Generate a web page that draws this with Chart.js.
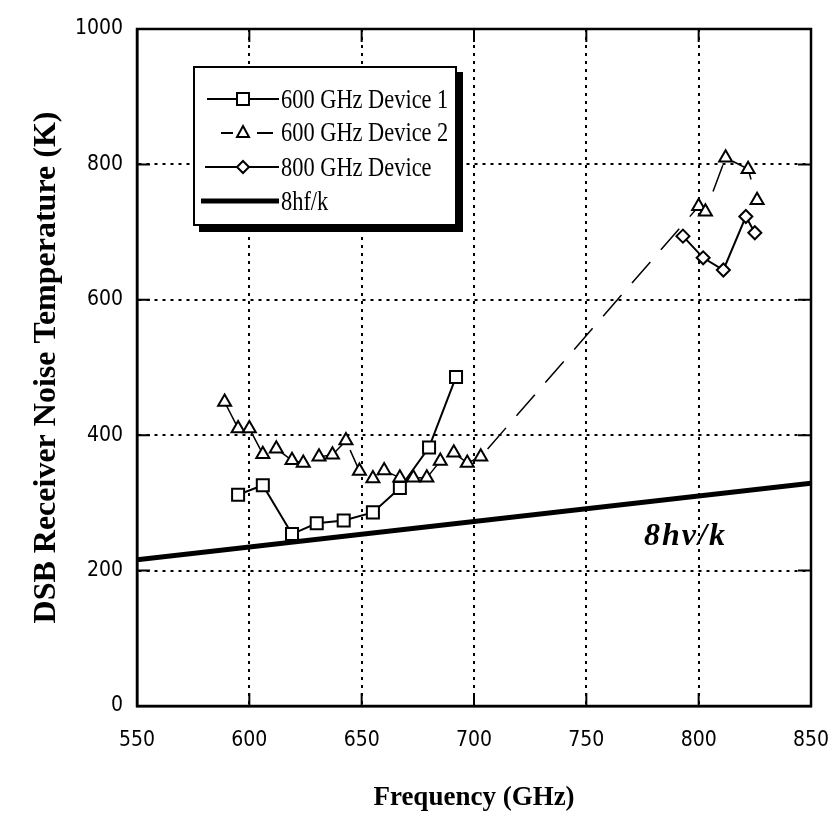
<!DOCTYPE html>
<html>
<head>
<meta charset="utf-8">
<script src="https://cdn.jsdelivr.net/npm/chart.js@4.4.0/dist/chart.umd.min.js"></script>
<style>
  html, body { margin: 0; padding: 0; background: #fff; }
  #wrap { position: relative; width: 833px; height: 818px; overflow: hidden; }
  #legend_box {
    position: absolute; left: 193px; top: 66px; width: 260px; height: 156px;
    border: 2px solid #000; box-shadow: 6px 6px 0 #000; background: #fff;
    font-family: "Liberation Serif", "Times New Roman", serif; font-size: 28px; color: #000;
  }
  .row { position: absolute; left: 0; height: 34px; display: flex; align-items: center; white-space: nowrap; }
  .row svg { flex: none; }
  .row span { display: inline-block; transform: scaleX(0.8); transform-origin: left center; }
  #label_8hv {
    position: absolute; left: 644px; top: 516px;
    font-family: "Liberation Serif", "Times New Roman", serif; font-size: 32px;
    font-weight: bold; font-style: italic; color: #000; letter-spacing: 2px;
  }
</style>
</head>
<body>
<div id="wrap">
  <canvas id="canvas_chart" width="833" height="818"></canvas>
  <div id="legend_box">
    <div class="row" style="top:14px">
      <svg width="86" height="20"><line x1="12" y1="10" x2="84" y2="10" stroke="#000" stroke-width="2"/><rect x="42" y="4" width="12" height="12" fill="#fff" stroke="#000" stroke-width="2"/></svg>
      <span>600 GHz Device 1</span>
    </div>
    <div class="row" style="top:47px">
      <svg width="86" height="20"><line x1="26" y1="11" x2="38" y2="11" stroke="#000" stroke-width="2"/><line x1="62" y1="11" x2="78" y2="11" stroke="#000" stroke-width="2"/><polygon points="48,4 54,15 42,15" fill="#fff" stroke="#000" stroke-width="2"/></svg>
      <span>600 GHz Device 2</span>
    </div>
    <div class="row" style="top:82px">
      <svg width="86" height="20"><line x1="10" y1="10" x2="84" y2="10" stroke="#000" stroke-width="2"/><polygon points="48,4 54,10 48,16 42,10" fill="#fff" stroke="#000" stroke-width="2"/></svg>
      <span>800 GHz Device</span>
    </div>
    <div class="row" style="top:116px">
      <svg width="86" height="20"><line x1="6" y1="10" x2="84" y2="10" stroke="#000" stroke-width="5"/></svg>
      <span>8hf/k</span>
    </div>
  </div>
  <div id="label_8hv">8hν/k</div>
</div>
<script>
// Valores (frequência em GHz, temperatura em K)
var dev1_freq = [595, 606, 619, 630, 642, 655, 667, 680, 692];
var dev1_temp = [312, 326, 254, 270, 274, 286, 322, 382, 486];

var dev2_freq = [589, 595, 600, 606, 612, 619, 624, 631, 637, 643, 649, 655, 660, 667, 673, 679, 685, 691, 697, 703, 800, 803, 812, 822, 826];
var dev2_temp = [449, 410, 410, 372, 380, 363, 359, 368, 371, 392, 347, 336, 348, 337, 337, 337, 362, 374, 359, 368, 738, 730, 810, 793, 747];

var dev3_freq = [793, 802, 811, 821, 825];
var dev3_temp = [694, 662, 644, 723, 699];

var limit_freq = [550, 850];
var limit_temp = [216, 329];

var x_ticks = [550, 600, 650, 700, 750, 800, 850];
var y_ticks = [0, 200, 400, 600, 800, 1000];

function toPoints(xs, ys) {
  var pts = [];
  for (let i = 0; i < xs.length; i++) {
    pts.push({x: xs[i], y: ys[i]});
  }
  return pts;
}

// Moldura sólida e pequenos traços para dentro nos quatro lados
const frameTicks = {
  id: 'frameTicks',
  beforeDatasetsDraw(chart) {
    const ctx = chart.ctx;
    const a = chart.chartArea;
    const sx = chart.scales.x, sy = chart.scales.y;
    ctx.save();
    ctx.strokeStyle = '#000';
    ctx.lineWidth = 2.5;
    ctx.strokeRect(a.left, a.top, a.right - a.left, a.bottom - a.top);
    ctx.lineWidth = 2;
    ctx.beginPath();
    x_ticks.forEach(v => {
      const px = sx.getPixelForValue(v);
      ctx.moveTo(px, a.bottom); ctx.lineTo(px, a.bottom - 13);
      ctx.moveTo(px, a.top); ctx.lineTo(px, a.top + 13);
    });
    y_ticks.forEach(v => {
      const py = sy.getPixelForValue(v);
      ctx.moveTo(a.left, py); ctx.lineTo(a.left + 13, py);
      ctx.moveTo(a.right, py); ctx.lineTo(a.right - 13, py);
    });
    ctx.stroke();
    ctx.restore();
  }
};

const tickFont = {family: '"Liberation Sans Narrow", "DejaVu Sans Condensed", sans-serif', size: 21};
const fontSerif = '"Liberation Serif", "Times New Roman", serif';

const config = {
  type: 'scatter',
  data: {
    datasets: [
      {
        label: '600 GHz Device 1',
        data: toPoints(dev1_freq, dev1_temp),
        showLine: true,
        borderColor: '#000',
        backgroundColor: '#fff',
        borderWidth: 2,
        pointStyle: 'rect',
        pointRadius: 8.5,
        pointBorderWidth: 2,
        order: 2
      },
      {
        label: '600 GHz Device 2',
        data: toPoints(dev2_freq, dev2_temp),
        showLine: true,
        borderColor: '#000',
        backgroundColor: '#fff',
        borderWidth: 1.5,
        borderDash: [28, 16],
        pointStyle: 'triangle',
        pointRadius: 7.5,
        pointBorderWidth: 2,
        order: 1
      },
      {
        label: '800 GHz Device',
        data: toPoints(dev3_freq, dev3_temp),
        showLine: true,
        borderColor: '#000',
        backgroundColor: '#fff',
        borderWidth: 2,
        pointStyle: 'rectRot',
        pointRadius: 6.5,
        pointBorderWidth: 2,
        order: 3
      },
      {
        label: '8hf/k',
        data: toPoints(limit_freq, limit_temp),
        showLine: true,
        borderColor: '#000',
        borderWidth: 5,
        pointRadius: 0,
        order: 4
      }
    ]
  },
  options: {
    responsive: false,
    animation: false,
    layout: {padding: {left: 28, top: 29, right: 22, bottom: 0}},
    plugins: {legend: {display: false}, tooltip: {enabled: false}},
    scales: {
      x: {
        type: 'linear', min: 550, max: 850,
        afterBuildTicks: s => { s.ticks = x_ticks.map(v => ({value: v})); },
        afterFit: s => { s.height = 112; s.paddingLeft = 0; s.paddingRight = 0; },
        border: {display: true, color: '#000', width: 2.5, dash: [3, 5]},
        grid: {color: '#000', lineWidth: 2, drawTicks: false},
        ticks: {color: '#000', font: tickFont, padding: 22, callback: v => String(v)},
        title: {display: true, text: 'Frequency (GHz)', color: '#000',
                font: {family: fontSerif, size: 27, weight: 'bold'}, padding: {top: 0, bottom: 4}}
      },
      y: {
        type: 'linear', min: 0, max: 1000,
        afterBuildTicks: s => { s.ticks = y_ticks.map(v => ({value: v})); },
        afterFit: s => { s.width = 109; s.paddingTop = 0; s.paddingBottom = 0; },
        border: {display: true, color: '#000', width: 2.5, dash: [3, 5]},
        grid: {color: '#000', lineWidth: 2, drawTicks: false},
        ticks: {color: '#000', font: tickFont, padding: 14, callback: v => String(v)},
        title: {display: true, text: 'DSB Receiver Noise Temperature (K)', color: '#000',
                font: {family: fontSerif, size: 32, weight: 'bold'}, padding: {top: 0, bottom: 4}}
      }
    }
  },
  plugins: [frameTicks]
};

const myChart = new Chart(document.getElementById('canvas_chart'), config);
</script>
</body>
</html>
